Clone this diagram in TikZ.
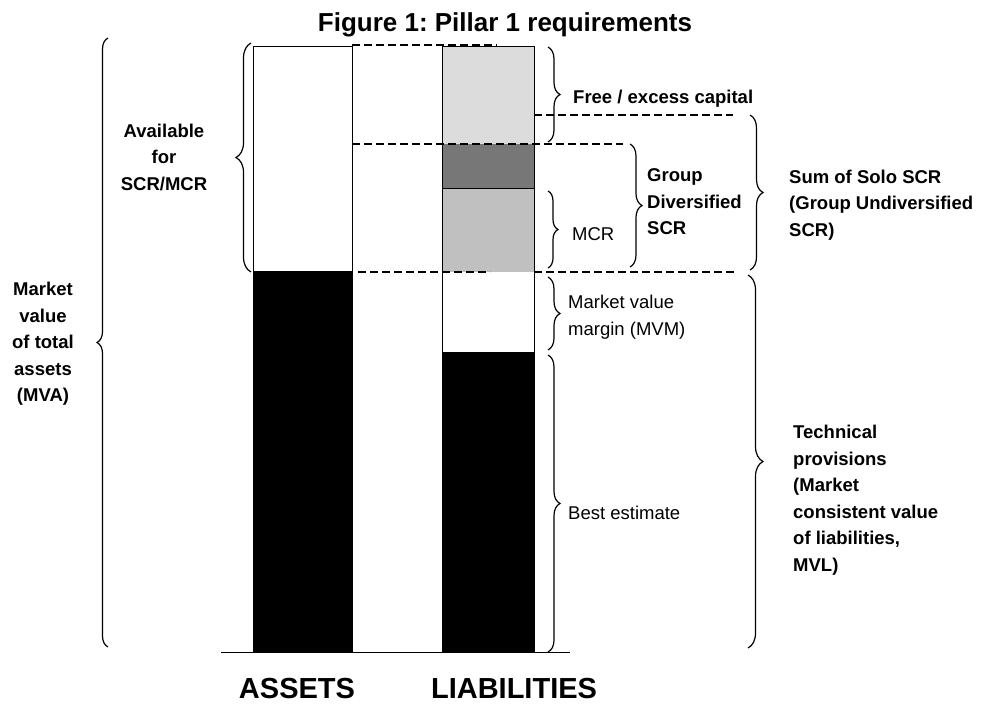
\documentclass[tikz,border=0pt]{standalone}
\usepackage{fontspec}
\setmainfont{Liberation Sans}
\usepackage{tikz}
\usetikzlibrary{decorations.pathreplacing,positioning}
\definecolor{freegray}{RGB}{220,220,220}
\definecolor{divgray}{RGB}{119,119,119}
\definecolor{mcrgray}{RGB}{192,192,192}
\frenchspacing

\begin{document}
\begin{tikzpicture}
  [x=1pt,y=-1pt,
  bar/.style={draw=black, line width=1pt},
  level/.style={dash pattern=on 8pt off 4pt, line width=2.2pt},
  curly/.style={decorate, decoration={brace, amplitude=#1}, line width=1.2pt},
  curly/.default=12pt,
  lbl/.style={font=\fontsize{18.5}{26.5}\selectfont, inner sep=0pt, align=left},
  blbl/.style={lbl, font=\fontsize{18.5}{26.5}\selectfont\bfseries},
  axis/.style={font=\fontsize{29}{34}\selectfont\bfseries, inner sep=0pt, anchor=base}]
  \useasboundingbox (0,0) rectangle (1003,704);

  \node (title) [anchor=base, inner sep=0pt, font=\fontsize{26}{30}\selectfont\bfseries] at (505,31) {Figure 1: Pillar 1 requirements};

  % assets
  \fill[black] (253,271) rectangle (352,652);
  \draw[bar] (253,46) rectangle (352,652);

  % liabilities
  \fill[freegray] (442,46) rectangle (534,144);
  \fill[divgray] (442,144) rectangle (534,188);
  \fill[mcrgray] (442,188) rectangle (534,272);
  \fill[black] (442,352) rectangle (534,652);
  \draw[bar] (442,188) -- (534,188);
  \draw[bar] (442,46) rectangle (534,652);

  \draw[bar] (221,652) -- (570,652);

  % dashed levels
  \draw[level] (352,45) -- (497,45);
  \draw[level] (534,115) -- (733,115);
  \draw[level] (352,144) -- (623,144);
  \draw[level] (358,272) -- (490,272);
  \draw[level] (534,272) -- (735,272);

  % braces
  \draw[curly=11pt] (108,647) -- (108,38);
  \draw[curly=15pt] (251,272) -- (251,43);
  \draw[curly] (548,47) -- (548,142);
  \draw[curly=10pt] (548,191) -- (548,268);
  \draw[curly] (630,144) -- (630,267);
  \draw[curly=13pt] (750,115) -- (750,270);
  \draw[curly] (548,277) -- (548,350);
  \draw[curly] (548,355) -- (548,652);
  \draw[curly=15pt] (748,275) -- (748,648);

  \node (mva) [blbl, align=center] at (43,344) {Market\\value\\of total\\assets\\(MVA)};
  \node (avail) [blbl, align=center] at (164,157) {Available\\for\\SCR/MCR};
  \node (free) [blbl, anchor=base west] at (573,103) {Free / excess capital};
  \node (mcr) [lbl, anchor=base west] at (572,240) {MCR};
  \node (gdscr) [blbl, anchor=west] at (647,202) {Group\\Diversified\\SCR};
  \node (solo) [blbl, anchor=west] at (789,205) {Sum of Solo SCR\\(Group Undiversified\\SCR)};
  \node (mvm) [lbl, anchor=west] at (568,317) {Market value\\margin (MVM)};
  \node (best) [lbl, anchor=base west] at (568,519) {Best estimate};
  \node (tp) [blbl, anchor=west] at (793,500) {Technical\\provisions\\(Market\\consistent value\\of liabilities,\\MVL)};

  \node (assets) [axis] at (297,698) {ASSETS};
  \node (liab) [axis] at (514,698) {LIABILITIES};
\end{tikzpicture}
\end{document}
